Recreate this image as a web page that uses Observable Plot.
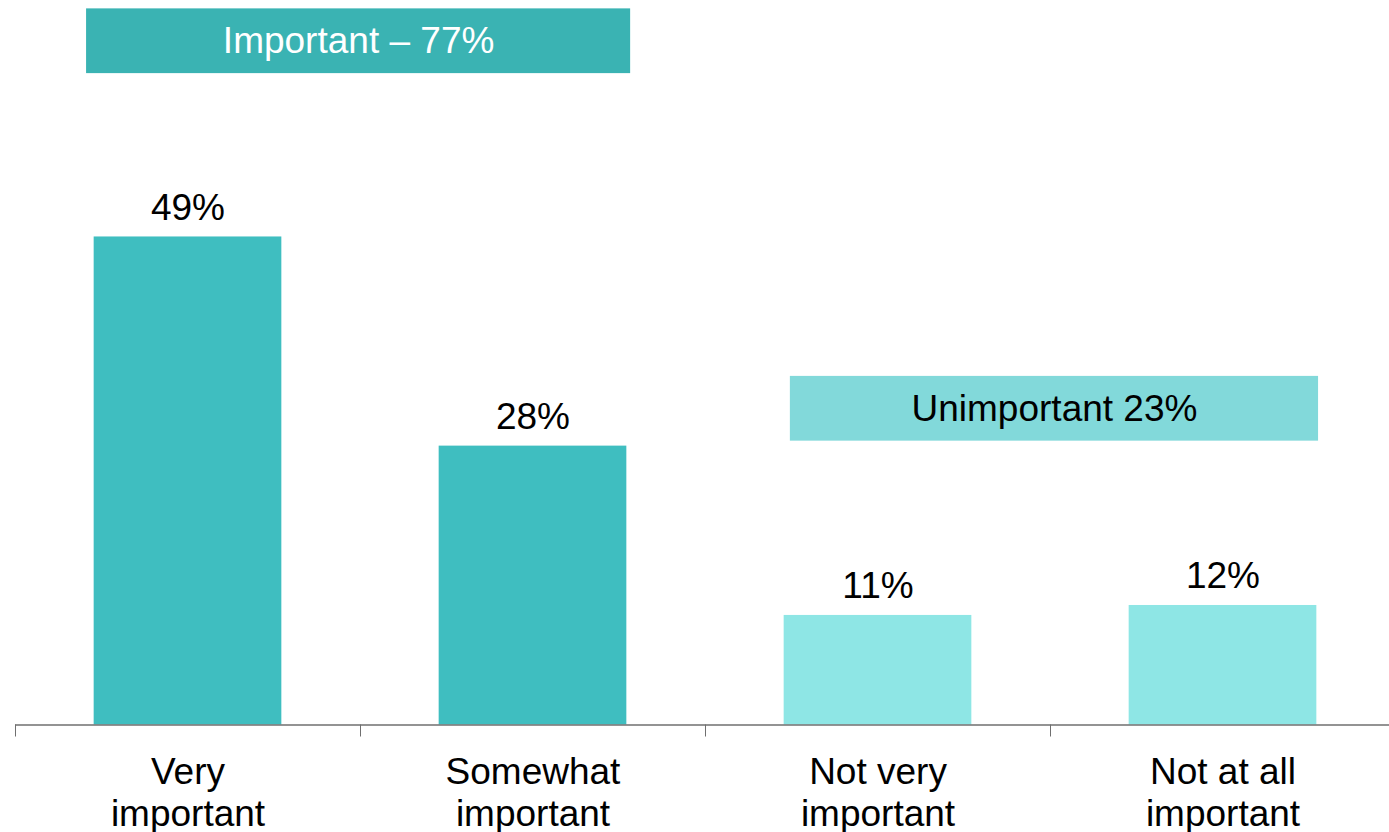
<!DOCTYPE html>
<html>
<head>
<meta charset="utf-8">
<script src="https://cdn.jsdelivr.net/npm/d3@7"></script>
<script src="https://cdn.jsdelivr.net/npm/@observablehq/plot@0.6"></script>
<style>
  html, body { margin: 0; padding: 0; background: #ffffff; }
  #chart svg { display: block; }
</style>
</head>
<body>
<div id="chart"></div>
<script>
// ---- data ----
const categories = ["Very important", "Somewhat important", "Not very important", "Not at all important"];
const axisLabels = ["Very\nimportant", "Somewhat\nimportant", "Not very\nimportant", "Not at all\nimportant"];
const values = [49, 28, 11, 12];
const groups = ["important", "important", "unimportant", "unimportant"];
const bannerLabels = ["Important – 77%", "Unimportant 23%"];
const bannerGroups = ["important", "unimportant"];

// ---- build tables ----
const data = categories.map((c, i) => ({category: c, label: axisLabels[i], value: values[i], group: groups[i], i}));
// banner spans in chart units (x: category slots, y: percent)
const bannerSpan = {
  important:   {x1: 0.206, x2: 1.783, y1: 65.4, y2: 71.9},
  unimportant: {x1: 2.246, x2: 3.777, y1: 28.5, y2: 35.0}
};
const banners = bannerLabels.map((l, k) => ({label: l, group: bannerGroups[k], ...bannerSpan[bannerGroups[k]]}));

const barColor = {important: "#3fbec0", unimportant: "#8ee6e5"};
const bannerColor = {important: "#3ab3b3", unimportant: "#82d9da"};
const bannerText = {important: "#ffffff", unimportant: "#000000"};

const W = 1389, H = 832;
const base = 724.5, perUnit = 9.96;
const pad = 0.228;
const fs = 37;

const chart = Plot.plot({
  width: W,
  height: H,
  marginLeft: 15,
  marginRight: 0,
  marginTop: 0,
  marginBottom: 0,
  style: {fontFamily: "'Liberation Sans', Arial, sans-serif", fontSize: fs + "px", background: "#ffffff", color: "#000"},
  x: {type: "linear", domain: [0, categories.length], range: [15, 15 + 345 * categories.length], axis: null},
  y: {domain: [0, 72], range: [base, base - 72 * perUnit], axis: null},
  marks: [
    // banners
    Plot.rect(banners, {x1: "x1", x2: "x2", y1: "y1", y2: "y2", fill: d => bannerColor[d.group]}),
    Plot.text(banners, {x: d => (d.x1 + d.x2) / 2, y: d => (d.y1 + d.y2) / 2, text: "label",
      fill: d => bannerText[d.group], fontSize: fs, lineAnchor: "middle", textAnchor: "middle"}),
    // bars
    Plot.rectY(data, {x1: d => d.i + pad, x2: d => d.i + 1 - pad, y1: 0, y2: "value", fill: d => barColor[d.group]}),
    // value labels
    Plot.text(data, {x: d => d.i + 0.5, y: "value", text: d => `${d.value}%`, dy: -17,
      lineAnchor: "bottom", textAnchor: "middle", fontSize: fs, fill: "#000"}),
    // baseline
    Plot.ruleY([0], {stroke: "#6f6f6f", strokeWidth: 1.5}),
    // ticks at category boundaries
    Plot.axisX({ticks: d3.range(categories.length + 1), tickSize: 12, tickFormat: () => "", stroke: "#6f6f6f", anchor: "bottom", y: 0}),
    // category labels
    Plot.text(data, {x: d => d.i + 0.5, y: 0, text: "label", dy: 100.5, lineAnchor: "bottom",
      lineHeight: 1.13, textAnchor: "middle", fontSize: fs, fill: "#000"})
  ]
});
document.getElementById("chart").appendChild(chart);
</script>
</body>
</html>
